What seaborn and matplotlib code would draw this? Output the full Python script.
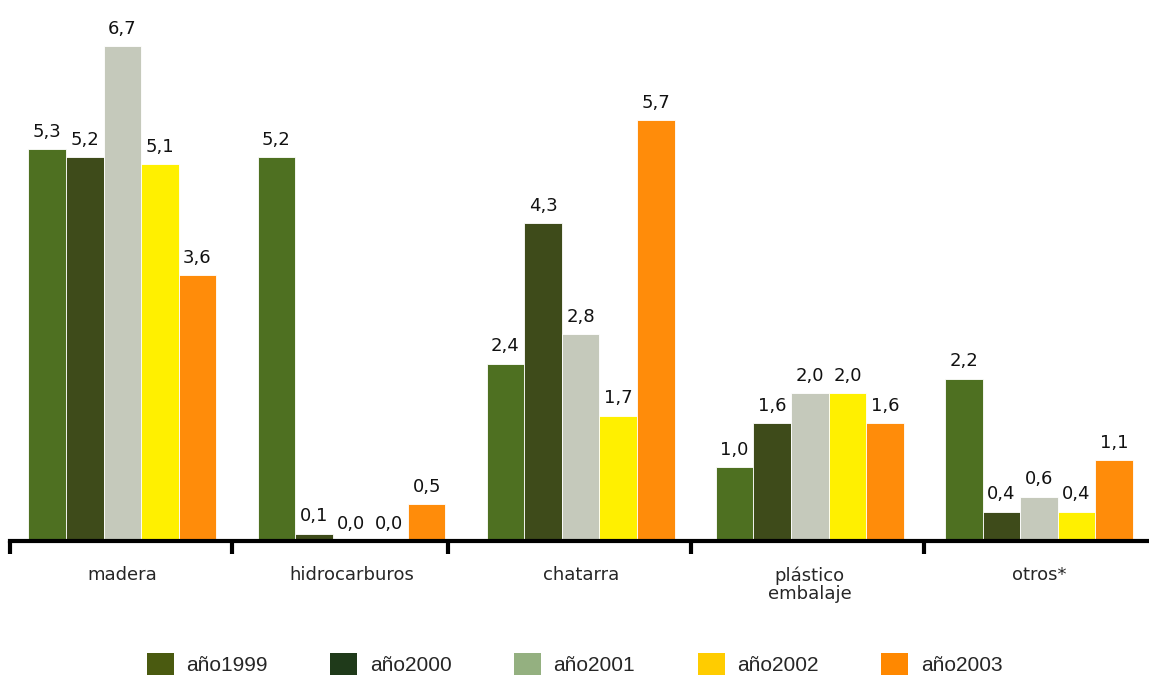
import numpy as np
import pandas as pd
import matplotlib
matplotlib.use("Agg")
import matplotlib.pyplot as plt
import seaborn as sns
from matplotlib.patches import Patch

categories = ["madera", "hidrocarburos", "chatarra", "plástico\nembalaje", "otros*"]
years = ["año1999", "año2000", "año2001", "año2002", "año2003"]
v1999 = [5.3, 5.2, 2.4, 1.0, 2.2]
v2000 = [5.2, 0.1, 4.3, 1.6, 0.4]
v2001 = [6.7, 0.0, 2.8, 2.0, 0.6]
v2002 = [5.1, 0.0, 1.7, 2.0, 0.4]
v2003 = [3.6, 0.5, 5.7, 1.6, 1.1]

bar_colors = ["#4e7021", "#3e4b1a", "#c5c9bb", "#fff000", "#ff8c0a"]
legend_colors = ["#4a5a10", "#1f3a1a", "#94b080", "#ffcc00", "#ff8800"]

rows = []
for yr, vals in zip(years, [v1999, v2000, v2001, v2002, v2003]):
    for c, v in zip(categories, vals):
        rows.append({"cat": c, "year": yr, "val": v})
df = pd.DataFrame(rows)

sns.set_style("white")
fig = plt.figure(figsize=(11.49, 6.79), dpi=100)
ax = fig.add_axes([0.0087, 0.203, 0.9913, 0.7945])

sns.barplot(data=df, x="cat", y="val", hue="year", palette=bar_colors, saturation=1,
            width=0.82, edgecolor="white", linewidth=0.6, ax=ax, legend=False)

for cont in ax.containers:
    labels = [f"{b.get_height():.1f}".replace(".", ",") for b in cont]
    ax.bar_label(cont, labels=labels, padding=6, fontsize=13, color="#111111")

ax.set_ylim(0, 7.3)
ax.set_xlim(-0.49, 4.48)
ax.set_xlabel("")
ax.set_ylabel("")
ax.set_yticks([])
for s in ["top", "right", "left"]:
    ax.spines[s].set_visible(False)
ax.spines["bottom"].set_linewidth(3)
ax.spines["bottom"].set_color("black")

ax.set_xticks(range(len(categories)))
ax.set_xticklabels(categories, fontsize=13, linespacing=1.0)
ax.tick_params(axis="x", which="major", bottom=False, length=0, pad=18)
ax.set_xticks([-0.49, 0.48, 1.42, 2.48, 3.5], minor=True)
ax.tick_params(axis="x", which="minor", bottom=True, length=9, width=3,
               color="black", direction="out")

handles = [Patch(facecolor=c, edgecolor="none", label=y) for c, y in zip(legend_colors, years)]
fig.legend(handles=handles, loc="center", bbox_to_anchor=(0.5, 0.022), ncol=5,
           frameon=False, prop={"family": ["Liberation Sans Narrow", "Liberation Sans"], "size": 15},
           handlelength=1.3, handleheight=1.3, handletextpad=0.6, columnspacing=3.0)

fig.savefig("out.png", dpi=100)
